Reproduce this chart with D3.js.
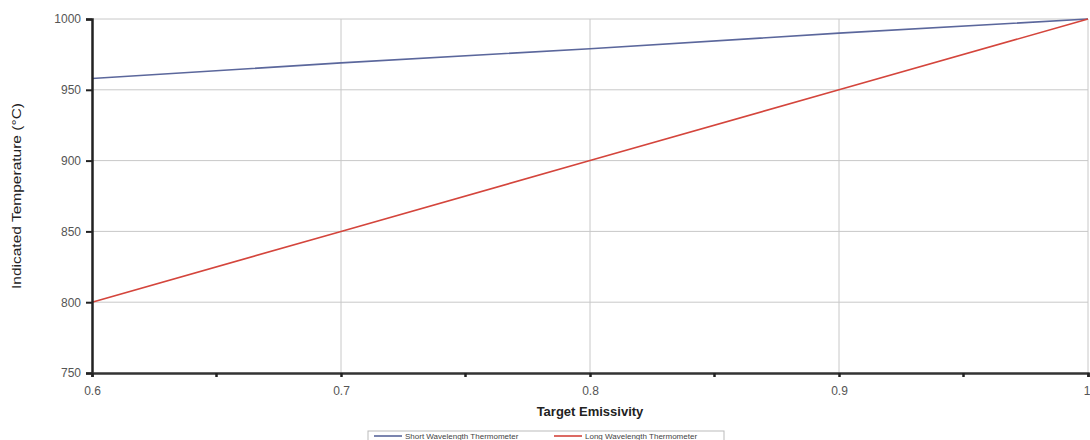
<!DOCTYPE html>
<html>
<head>
<meta charset="utf-8">
<script src="https://cdn.jsdelivr.net/npm/d3@7"></script>
<style>
  body { margin: 0; background: #fff; }
  svg { display: block; font-family: "Liberation Sans", Arial, sans-serif; }
</style>
</head>
<body>
<svg id="chart" width="1090" height="440"></svg>
<script>
// Data
const emissivity = [0.6, 0.7, 0.8, 0.9, 1.0];
const shortWave = [958, 969, 979, 990, 1000];
const longWave = [800, 850, 900, 950, 1000];
const yTicks = [750, 800, 850, 900, 950, 1000];
const xTicks = [0.6, 0.7, 0.8, 0.9, 1.0];
const xMinor = [0.65, 0.75, 0.85, 0.95];
const seriesNames = ['Short Wavelength Thermometer', 'Long Wavelength Thermometer'];

const width = 1090, height = 440;
const margin = {top: 19, right: 2, bottom: 67, left: 92};

const svg = d3.select('#chart');

const x = d3.scaleLinear().domain([0.6, 1.0]).range([margin.left, width - margin.right]);
const y = d3.scaleLinear().domain([750, 1000]).range([height - margin.bottom, margin.top]);

// Gridlines
svg.append('g')
  .selectAll('line')
  .data(yTicks.slice(1))
  .join('line')
    .attr('x1', margin.left).attr('x2', width - margin.right)
    .attr('y1', d => y(d)).attr('y2', d => y(d))
    .attr('stroke', '#c8c8c8').attr('stroke-width', 1);

svg.append('g')
  .selectAll('line')
  .data(xTicks.slice(1))
  .join('line')
    .attr('x1', d => x(d)).attr('x2', d => x(d))
    .attr('y1', margin.top).attr('y2', height - margin.bottom)
    .attr('stroke', '#c8c8c8').attr('stroke-width', 1);

// Lines
const line = d3.line().x((d, i) => x(emissivity[i])).y(d => y(d));
const colors = ['#5b679c', '#d4453c'];

[shortWave, longWave].forEach((s, i) => {
  svg.append('path')
    .datum(s)
    .attr('fill', 'none')
    .attr('stroke', colors[i])
    .attr('stroke-width', 1.6)
    .attr('d', line);
});

// Axes
const yAxis = svg.append('g')
  .attr('transform', `translate(${margin.left},0)`)
  .call(d3.axisLeft(y).tickValues(yTicks).tickSize(6).tickPadding(5).tickFormat(d3.format('d')));
yAxis.select('.domain').attr('stroke', '#222').attr('stroke-width', 2.5);
yAxis.selectAll('.tick line').attr('stroke', '#222').attr('stroke-width', 2);
yAxis.selectAll('text').attr('font-size', 12).attr('fill', '#555');

const xAxis = svg.append('g')
  .attr('transform', `translate(0,${height - margin.bottom})`)
  .call(d3.axisBottom(x).tickValues(xTicks).tickSize(4).tickPadding(9)
    .tickFormat(d => d === 1 ? '1' : d3.format('.1f')(d)));
xAxis.select('.domain').attr('stroke', '#333').attr('stroke-width', 2.5);
xAxis.selectAll('.tick line').attr('stroke', '#222').attr('stroke-width', 2.5);
xAxis.selectAll('text').attr('font-size', 12).attr('fill', '#555');
// keep the last label inside the picture
xAxis.selectAll('.tick').filter(d => d === 1).select('text')
  .attr('text-anchor', 'end').attr('dx', 2);

svg.append('g')
  .attr('transform', `translate(0,${height - margin.bottom})`)
  .selectAll('line')
  .data(xMinor)
  .join('line')
    .attr('x1', d => x(d)).attr('x2', d => x(d))
    .attr('y1', 0).attr('y2', 4)
    .attr('stroke', '#222').attr('stroke-width', 2.5);

// Axis titles
svg.append('text')
  .attr('x', x(0.8)).attr('y', 416)
  .attr('text-anchor', 'middle')
  .attr('font-size', 13).attr('font-weight', 'bold').attr('fill', '#222')
  .text('Target Emissivity');

svg.append('text')
  .attr('transform', `translate(21,${(margin.top + height - margin.bottom) / 2}) rotate(-90)`)
  .attr('text-anchor', 'middle')
  .attr('font-size', 13).attr('fill', '#222')
  .attr('textLength', 186).attr('lengthAdjust', 'spacingAndGlyphs')
  .text('Indicated Temperature (°C)');

// Legend
const legend = svg.append('g').attr('transform', 'translate(368,431)');
legend.append('rect')
  .attr('x', 0).attr('y', 0).attr('width', 356).attr('height', 14)
  .attr('fill', '#fff').attr('stroke', '#bbb');

const items = legend.selectAll('g.item')
  .data(seriesNames)
  .join('g')
    .attr('class', 'item')
    .attr('transform', (d, i) => `translate(${6 + i * 180},5)`);
items.append('line')
  .attr('x1', 0).attr('x2', 28).attr('y1', 0).attr('y2', 0)
  .attr('stroke', (d, i) => colors[i]).attr('stroke-width', 1.6);
items.append('text')
  .attr('x', 31).attr('y', 3)
  .attr('font-size', 8).attr('fill', '#444')
  .text(d => d);
</script>
</body>
</html>
